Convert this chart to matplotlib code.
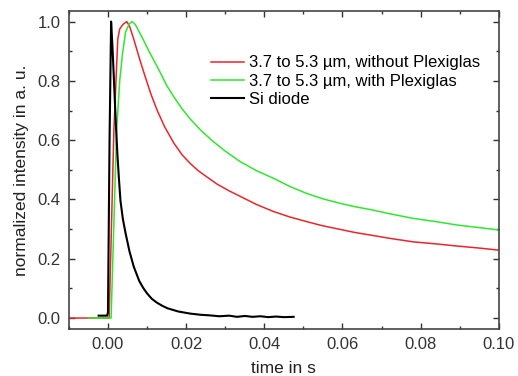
import matplotlib.pyplot as plt
from matplotlib.ticker import MultipleLocator

plt.rcParams['font.family'] = ['Liberation Sans', 'DejaVu Sans']

# 3.7 to 5.3 um, without Plexiglas
t_red = [-0.01, 0.0, 0.0003, 0.0015, 0.0025, 0.003, 0.0038, 0.0048, 0.0055,
         0.0065, 0.0075, 0.0083, 0.0095, 0.0110, 0.0126, 0.0145, 0.0169,
         0.0190, 0.0210, 0.0230, 0.0254, 0.0280, 0.0310, 0.0339, 0.0380,
         0.0424, 0.0465, 0.0509, 0.0550, 0.0594, 0.0630, 0.0671, 0.0720,
         0.0781, 0.0840, 0.0892, 0.0950, 0.10]
v_red = [0.0, 0.0, 0.0, 0.63, 0.94, 0.975, 0.99, 1.0, 0.985,
         0.945, 0.900, 0.865, 0.815, 0.755, 0.700, 0.645, 0.589,
         0.550, 0.522, 0.498, 0.475, 0.451, 0.429, 0.410, 0.383,
         0.359, 0.341, 0.325, 0.311, 0.299, 0.289, 0.280, 0.269,
         0.257, 0.250, 0.243, 0.236, 0.229]

# 3.7 to 5.3 um, with Plexiglas
t_green = [-0.005, 0.0, 0.0008, 0.0022, 0.003, 0.0037, 0.0045, 0.0055, 0.0062,
           0.0070, 0.0080, 0.0090, 0.0103, 0.0117, 0.0135, 0.0150, 0.0169,
           0.0190, 0.0210, 0.0237, 0.0265, 0.0300, 0.0339, 0.0380, 0.0424,
           0.0465, 0.0509, 0.0550, 0.0594, 0.0630, 0.0671, 0.0720, 0.0781,
           0.0840, 0.0892, 0.0950, 0.10]
v_green = [0.0, 0.0, 0.0, 0.63, 0.80, 0.89, 0.965, 0.993, 1.0,
           0.990, 0.965, 0.940, 0.905, 0.870, 0.825, 0.785, 0.745,
           0.705, 0.672, 0.634, 0.600, 0.563, 0.527, 0.497, 0.471,
           0.444, 0.420, 0.402, 0.387, 0.376, 0.366, 0.352, 0.336,
           0.325, 0.314, 0.305, 0.297]

# Si diode
t_si = [-0.0024, -0.0002, 0.0, 0.0004, 0.0008, 0.0012, 0.0016, 0.0020, 0.0024,
        0.0028, 0.0032, 0.0038, 0.0045, 0.0055, 0.0066, 0.0080, 0.0090,
        0.0100, 0.0112, 0.0125, 0.0138, 0.0152, 0.0180, 0.0210, 0.0237,
        0.0260, 0.0285, 0.0310, 0.0330, 0.0350, 0.0370, 0.0390, 0.0410,
        0.0430, 0.0450, 0.0475]
v_si = [0.008, 0.008, 0.02, 0.60, 1.0, 0.90, 0.78, 0.66, 0.555,
        0.47, 0.395, 0.335, 0.286, 0.225, 0.173, 0.125, 0.102,
        0.083, 0.065, 0.052, 0.042, 0.033, 0.022, 0.015, 0.011,
        0.009, 0.006, 0.008, 0.004, 0.007, 0.004, 0.006, 0.003,
        0.005, 0.003, 0.004]

labels = ['3.7 to 5.3 µm, without Plexiglas',
          '3.7 to 5.3 µm, with Plexiglas',
          'Si diode']

fig = plt.figure(figsize=(5.18, 3.76), dpi=100)
ax = fig.add_axes([0.133, 0.125, 0.830, 0.846])

ax.plot(t_red, v_red, color='#e8262b', lw=1.1, label=labels[0])
ax.plot(t_green, v_green, color='#2ee82e', lw=1.1, label=labels[1])
ax.plot(t_si, v_si, color='black', lw=1.5, label=labels[2])

ax.set_xlim(-0.01, 0.10)
ax.set_ylim(-0.037, 1.036)
ax.xaxis.set_major_locator(MultipleLocator(0.02))
ax.xaxis.set_minor_locator(MultipleLocator(0.01))
ax.yaxis.set_major_locator(MultipleLocator(0.2))
ax.yaxis.set_minor_locator(MultipleLocator(0.1))
ax.xaxis.set_major_formatter(plt.FormatStrFormatter('%.2f'))
ax.yaxis.set_major_formatter(plt.FormatStrFormatter('%.1f'))

ax.tick_params(which='both', direction='in', top=True, right=True,
               color='#333333', labelcolor='#333333', labelsize=12)
ax.tick_params(which='major', length=4, width=1.0, pad=6)
ax.tick_params(which='minor', length=2.5, width=1.0)
for s in ax.spines.values():
    s.set_color('#444444')
    s.set_linewidth(1.2)

ax.set_xlabel('time in s', fontsize=12.5, color='#222222', labelpad=6)
ax.set_ylabel('normalized intensity in a. u.', fontsize=12.5, color='#222222', labelpad=6)

ax.legend(loc='center left', bbox_to_anchor=(0.33, 0.779), frameon=False,
          fontsize=12, handlelength=2.0, handletextpad=0.3, labelspacing=0.2,
          borderpad=0, borderaxespad=0)

fig.savefig('out.png', dpi=100)
